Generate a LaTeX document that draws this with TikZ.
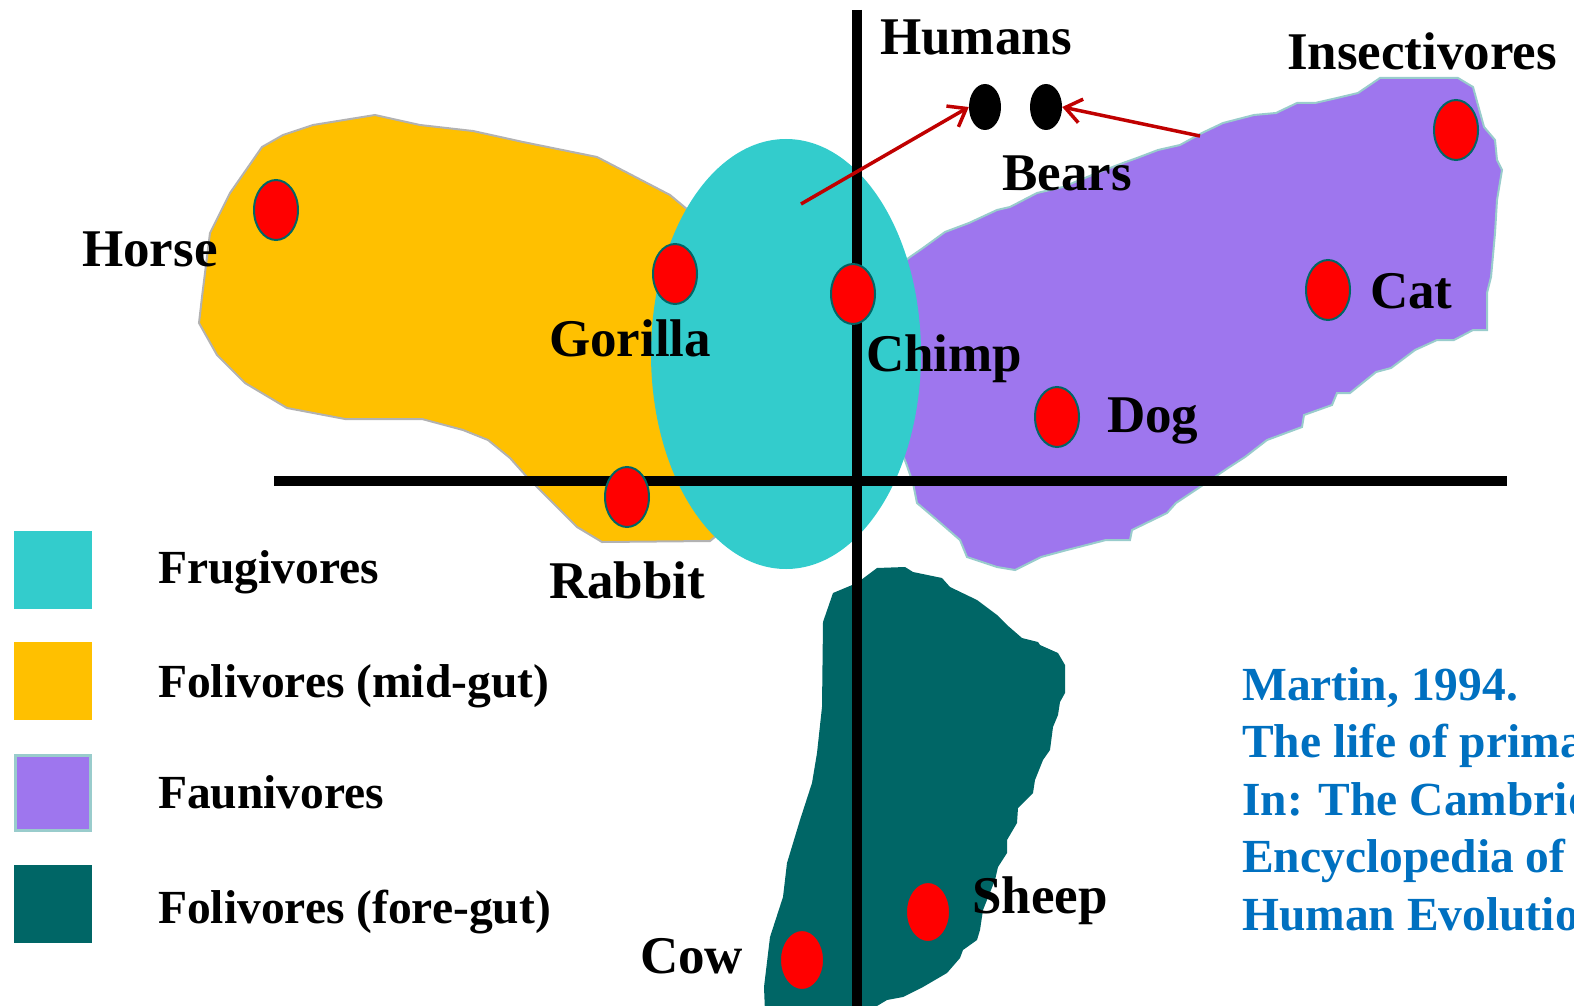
\documentclass[tikz,border=0pt]{standalone}
\usepackage{fontspec}
\setmainfont{Liberation Serif}
\usetikzlibrary{arrows.meta,shapes.geometric}
\definecolor{cFru}{RGB}{51,204,204}
\definecolor{cMid}{RGB}{255,192,0}
\definecolor{cFau}{RGB}{158,118,238}
\definecolor{cFore}{RGB}{0,102,102}
\definecolor{cEdge}{RGB}{153,204,204}
\definecolor{cGrey}{RGB}{178,178,178}
\definecolor{cArr}{RGB}{192,0,0}
\definecolor{cCite}{RGB}{0,112,192}

\begin{document}
\begin{tikzpicture}[x=1pt,y=-1pt,
   spot/.style={ellipse,draw=cFore,line width=2pt,fill=red,minimum width=44pt,minimum height=60pt,inner sep=0pt},
   eye/.style={ellipse,fill=black,minimum width=32pt,minimum height=46pt,inner sep=0pt},
   lbl/.style={anchor=base west,inner sep=0pt,font=\fontsize{53}{60}\selectfont\bfseries},
   key/.style={anchor=base west,inner sep=0pt,font=\fontsize{47.5}{57}\selectfont\bfseries},
   sq/.style={minimum size=78pt,inner sep=0pt},
   axis/.style={line width=10pt},
   arr/.style={cArr,line width=3.5pt,-{Straight Barb[length=16pt,width=24pt]}}]
  \useasboundingbox (0,0) rectangle (1574,1006);
  % folivores (mid-gut)
  \filldraw[fill=cMid,draw=cGrey,line width=2pt] (375,115) -- (420,125) -- (473,131) -- (523,142)
    -- (597,157) -- (670,195) -- (700,220) -- (760,300) -- (760,500) -- (710,541) -- (602,542)
    -- (577,527) -- (527,477) -- (510,458) -- (488,440) -- (463,430) -- (422,419) -- (345,419)
    -- (287,408) -- (245,383) -- (217,355) -- (199,323) -- (202,297) -- (210,233) -- (230,193)
    -- (262,147) -- (283,135) -- (313,125) -- cycle;
  % faunivores
  \filldraw[fill=cFau,draw=cEdge,line width=2pt] (910,257) -- (923,248) -- (945,232) -- (969,223)
    -- (997,210) -- (1010,207) -- (1037,193) -- (1063,187) -- (1097,173) -- (1123,163) -- (1137,158)
    -- (1158,150) -- (1180,145) -- (1202,133) -- (1223,123) -- (1254,115) -- (1276,113) -- (1297,103)
    -- (1315,103) -- (1337,98) -- (1358,93) -- (1380,78) -- (1458,78) -- (1473,87) -- (1484,127)
    -- (1495,140) -- (1497,160) -- (1502,170) -- (1497,200) -- (1495,233) -- (1491,277) -- (1487,293)
    -- (1487,330) -- (1473,330) -- (1454,340) -- (1437,340) -- (1415,350) -- (1391,368) -- (1376,372)
    -- (1350,393) -- (1337,393) -- (1332,405) -- (1304,415) -- (1302,427) -- (1267,440) -- (1245,457)
    -- (1228,468) -- (1206,483) -- (1176,503) -- (1167,513) -- (1132,530) -- (1130,540) -- (1106,540)
    -- (1067,550) -- (1041,557) -- (1015,570) -- (997,567) -- (967,557) -- (960,540) -- (937,520)
    -- (917,503) -- (913,483) -- (906,463) -- (880,400) -- (880,280) -- cycle;
  % folivores (fore-gut)
  \fill[cFore] (877,568) -- (905,567) -- (913,572) -- (942,578) -- (950,587) -- (977,600) -- (997,615)
    -- (1007,625) -- (1022,638) -- (1038,642) -- (1040,645) -- (1058,653) -- (1065,665) -- (1065,693)
    -- (1060,702) -- (1058,715) -- (1053,727) -- (1050,750) -- (1043,760) -- (1035,780) -- (1033,793)
    -- (1018,808) -- (1017,823) -- (1007,840) -- (1007,853) -- (998,867) -- (995,880) -- (983,910)
    -- (980,930) -- (977,940) -- (963,950) -- (960,958) -- (947,973) -- (923,987) -- (903,997)
    -- (887,1000) -- (867,1012) -- (765,1012) -- (764,987) -- (770,937) -- (783,897) -- (787,863)
    -- (800,820) -- (812,783) -- (817,753) -- (822,707) -- (823,622) -- (833,593) -- (857,583) -- cycle;
  % frugivores
  \fill[cFru] (786,354) ellipse [x radius=135pt,y radius=215pt];
  % axes
  \draw[axis] (857,10) -- (857,1006);
  \draw[axis] (274,481) -- (1507,481);
  % species
  \node[spot] (horse)   at (276,210) {};
  \node[spot] (gorilla) at (675,274) {};
  \node[spot] (chimp)   at (853,294) {};
  \node[spot] (rabbit)  at (627,497) {};
  \node[spot] (dog)     at (1057,417) {};
  \node[spot] (cat)     at (1328,290) {};
  \node[spot] (insect)  at (1456,130) {};
  \node[spot] (sheep)   at (928,912) {};
  \node[spot] (cow)     at (802,960) {};
  \node[eye] (human) at (985,107) {};
  \node[eye] (bear)  at (1046,107) {};
  \coordinate (frufrom) at (801,204);
  \coordinate (faufrom) at (1200,136);
  \draw[arr] (frufrom) -- (human.west);
  \draw[arr] (faufrom) -- (bear.east);
  % labels
  \node[lbl] (lhum)  at (880,55)   {Humans};
  \node[lbl] (lins)  at (1287,70)  {Insectivores};
  \node[lbl] (lbear) at (1002,190) {Bears};
  \node[lbl] (lhor)  at (82,266)   {Horse};
  \node[lbl] (lgor)  at (549,356)  {Gorilla};
  \node[lbl] (lchi)  at (866,371)  {Chimp};
  \node[lbl] (lcat)  at (1370,308) {Cat};
  \node[lbl] (ldog)  at (1107,432) {Dog};
  \node[lbl] (lrab)  at (549,598)  {Rabbit};
  \node[lbl] (lshe)  at (972,913)  {Sheep};
  \node[lbl] (lcow)  at (640,973)  {Cow};
  % legend
  \node[sq,fill=cFru]  (kfru)  at (53,569.5) {};
  \node[sq,fill=cMid]  (kmid)  at (53,680.5) {};
  \node[sq,fill=cFau,draw=cEdge,line width=3pt,minimum size=75pt] (kfau) at (53,792.5) {};
  \node[sq,fill=cFore] (kfore) at (53,903.5) {};
  \node[key] (tfru)  at (158,583) {Frugivores};
  \node[key] (tmid)  at (158,697) {Folivores (mid-gut)};
  \node[key] (tfau)  at (158,808) {Faunivores};
  \node[key] (tfore) at (158,923) {Folivores (fore-gut)};
  % reference
  \foreach \t [count=\i from 0] in {{Martin, 1994.},{The life of primates},{In: The Cambridge},{Encyclopedia of},{Human Evolution}}
    \node[key,text=cCite] (cite\i) at (1242,700+57.5*\i) {\t};
\end{tikzpicture}
\end{document}
